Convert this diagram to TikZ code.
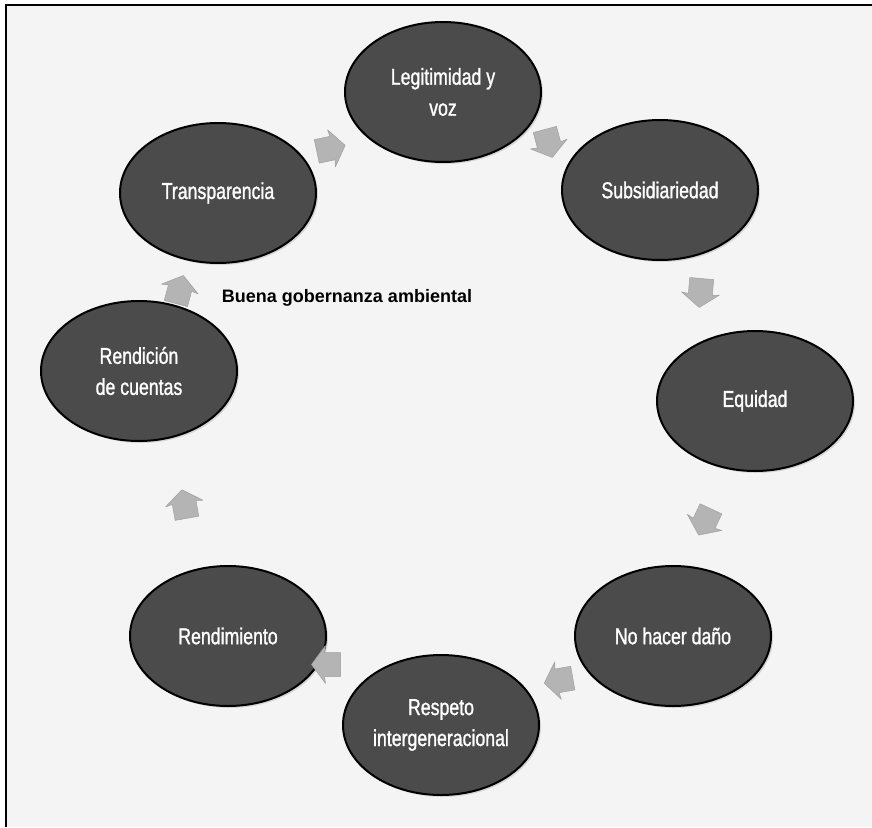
\documentclass[tikz,border=0pt]{standalone}
\usepackage{fontspec}
\setmainfont{Liberation Sans}
\newfontfamily\narrowfont[FakeStretch=0.77,FakeBold=1.2]{Liberation Sans}
\usetikzlibrary{shapes.geometric,shadows,calc}
\definecolor{bg}{HTML}{F4F4F4}
\definecolor{ellfill}{HTML}{4B4B4B}
\definecolor{arrowfill}{HTML}{B4B4B4}
\definecolor{arrowedge}{HTML}{A0A0A0}
\begin{document}
\begin{tikzpicture}[x=1pt,y=-1pt,
  elli/.style={ellipse, draw=black, line width=2pt, fill=ellfill,
    minimum width=196pt, minimum height=140pt, text=white,
    font=\narrowfont\fontsize{23}{31}\selectfont, align=center, inner sep=0pt,
    drop shadow={opacity=0.25, shadow xshift=2pt, shadow yshift=-2pt}},
  flecha/.pic={
    \filldraw[fill=arrowfill, draw=arrowedge, line width=0.5pt, line join=round]
      (-14,-12) -- (2,-12) -- (1,-19) -- (15,0) -- (1,19) -- (2,12) -- (-14,12) -- cycle;
  }]
\useasboundingbox (0,0) rectangle (872,827);
\fill[white] (0,0) rectangle (872,827);
\fill[bg] (6,5) rectangle (872,827);
\draw[line width=2.5pt] (6,827) -- (6,5) -- (872,5);

\node[elli] (legit) at (443,92) {Legitimidad y\\voz};
\node[elli] (subs) at (660,190) {Subsidiariedad};
\node[elli] (equi) at (755,401) {Equidad};
\node[elli] (dano) at (673,636) {No hacer daño};
\node[elli] (resp) at (441,725) {Respeto\\intergeneracional};
\node[elli] (rend) at (228,636) {Rendimiento};
\node[elli] (rcue) at (139,371) {Rendición\\de cuentas};
\node[elli] (tran) at (218,193) {Transparencia};

\node[font=\bfseries\fontsize{18}{21}\selectfont] (title) at (347,298) {Buena gobernanza ambiental};

\pic[rotate=12] at ($(tran)!0.5!(legit)+(0,6)$) {flecha};
\pic[rotate=-75] at ($(legit)!0.5!(subs)+(-3,2)$) {flecha};
\pic[rotate=-95] at ($(subs)!0.5!(equi)+(-7,-3)$) {flecha};
\pic[rotate=-115] at ($(equi)!0.5!(dano)+(-9,3)$) {flecha};
\pic[rotate=190] at ($(dano)!0.5!(resp)+(2,0)$) {flecha};
\pic[rotate=180] at ($(resp)!0.5!(rend)+(-8,-16)$) {flecha};
\pic[rotate=100] at ($(rend)!0.5!(rcue)+(1,1)$) {flecha};
\pic[rotate=75] at ($(rcue)!0.5!(tran)+(1,8)$) {flecha};
\end{tikzpicture}
\end{document}
